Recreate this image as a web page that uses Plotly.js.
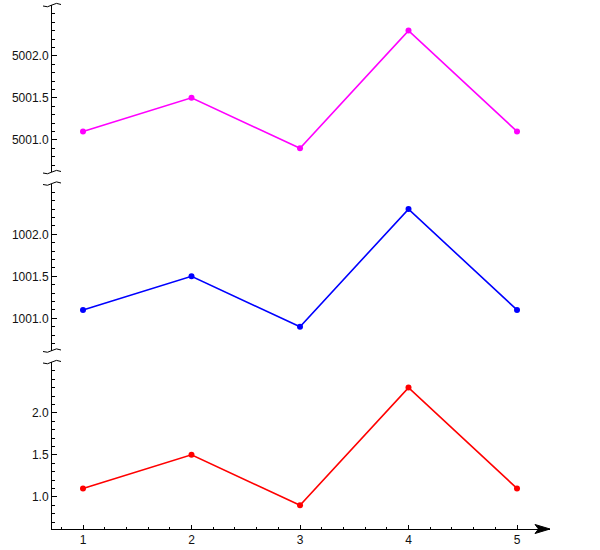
<!DOCTYPE html>
<html>
<head>
<meta charset="utf-8">
<script src="https://cdn.plot.ly/plotly-3.0.1.min.js"></script>
<style>html,body{margin:0;padding:0;background:#fff;}#chart{width:600px;height:550px;}</style>
</head>
<body>
<div id="chart"></div>
<script>
// ---- data ----
const xValues = [1, 2, 3, 4, 5];
const redValues = [1.1, 1.5, 0.9, 2.3, 1.1];
const blueValues = [1001.1, 1001.5, 1000.9, 1002.3, 1001.1];
const magentaValues = [5001.1, 5001.5, 5000.9, 5002.3, 5001.1];

const xTickVals = [1, 2, 3, 4, 5];
const redTickVals = [1.0, 1.5, 2.0];
const blueTickVals = [1001.0, 1001.5, 1002.0];
const magentaTickVals = [5001.0, 5001.5, 5002.0];

// ---- layout geometry ----
const W = 600, H = 550;
const L = 52, R = 50, T = 5, B = 21;
const plotW = W - L - R, plotH = H - T - B;
const px = v => (v - L) / plotW;
const py = v => (H - B - v) / plotH;

const panelH = 167, gapH = (plotH - 3 * panelH) / 2;
const dom1 = [0, panelH / plotH];
const dom2 = [(panelH + gapH) / plotH, (2 * panelH + gapH) / plotH];
const dom3 = [(2 * panelH + 2 * gapH) / plotH, 1];

const font = {family: 'Liberation Sans, Arial, sans-serif', size: 12, color: '#111'};

function yAxis(domain, tickvals, lo, hi) {
  return {
    domain: domain, anchor: 'x', range: [lo, hi],
    tickmode: 'array', tickvals: tickvals, tickformat: '.1f',
    ticks: 'inside', ticklen: 5, tickcolor: '#000', tickwidth: 1,
    minor: {tickmode: 'linear', tick0: 0, dtick: 0.1, ticks: 'inside', ticklen: 3, tickcolor: '#000', tickwidth: 1, showgrid: false},
    showline: true, linecolor: '#000', linewidth: 1,
    showgrid: false, zeroline: false, tickfont: font
  };
}

function trace(y, color, yaxis) {
  return {
    x: xValues, y: y, xaxis: 'x', yaxis: yaxis, type: 'scatter', mode: 'lines+markers',
    line: {color: color, width: 1.6}, marker: {color: color, size: 6},
    cliponaxis: false, showlegend: false
  };
}

const data = [
  trace(redValues, '#ff0000', 'y'),
  trace(blueValues, '#0000ff', 'y2'),
  trace(magentaValues, '#ff00ff', 'y3')
];

// break marks
function breakMark(yPix) {
  const x0 = L;
  const pts = (dx, dy) => px(x0 + dx) + ',' + py(yPix + dy);
  return {
    type: 'path', xref: 'paper', yref: 'paper', layer: 'above',
    path: 'M' + pts(-9, 1) + ' Q' + pts(-4.5, 3) + ' ' + pts(0, 0) + ' Q' + pts(4.5, -3) + ' ' + pts(9, -0.5),
    line: {color: '#000', width: 1}
  };
}
const topPix = d => H - B - d * plotH;
const shapes = [
  breakMark(topPix(dom1[1])),
  breakMark(topPix(dom2[0])),
  breakMark(topPix(dom2[1])),
  breakMark(topPix(dom3[0])),
  breakMark(topPix(dom3[1])),
  {
    type: 'path', xref: 'paper', yref: 'paper', layer: 'above',
    path: 'M' + px(550) + ',' + py(529) + ' L' + px(535) + ',' + py(524.5) + ' L' + px(538.5) + ',' + py(529) + ' L' + px(535) + ',' + py(533.5) + ' Z',
    fillcolor: '#000', line: {color: '#000', width: 1}
  }
];

const layout = {
  width: W, height: H,
  margin: {l: L, r: R, t: T, b: B, pad: 0},
  paper_bgcolor: '#fff', plot_bgcolor: '#fff',
  showlegend: false,
  xaxis: {
    domain: [0, 1], anchor: 'y', range: [0.7143, 5.304],
    tickmode: 'array', tickvals: xTickVals, tickformat: 'd',
    ticks: 'inside', ticklen: 4, tickcolor: '#000', tickwidth: 1,
    minor: {tickmode: 'linear', tick0: 0, dtick: 0.2, ticks: 'inside', ticklen: 2, tickcolor: '#000', tickwidth: 1, showgrid: false},
    showline: true, linecolor: '#000', linewidth: 1,
    showgrid: false, zeroline: false, tickfont: font
  },
  yaxis: yAxis(dom1, redTickVals, 0.617, 2.605),
  yaxis2: yAxis(dom2, blueTickVals, 1000.617, 1002.605),
  yaxis3: yAxis(dom3, magentaTickVals, 5000.617, 5002.605),
  shapes: shapes
};

Plotly.newPlot('chart', data, layout, {displayModeBar: false, staticPlot: true});
</script>
</body>
</html>
